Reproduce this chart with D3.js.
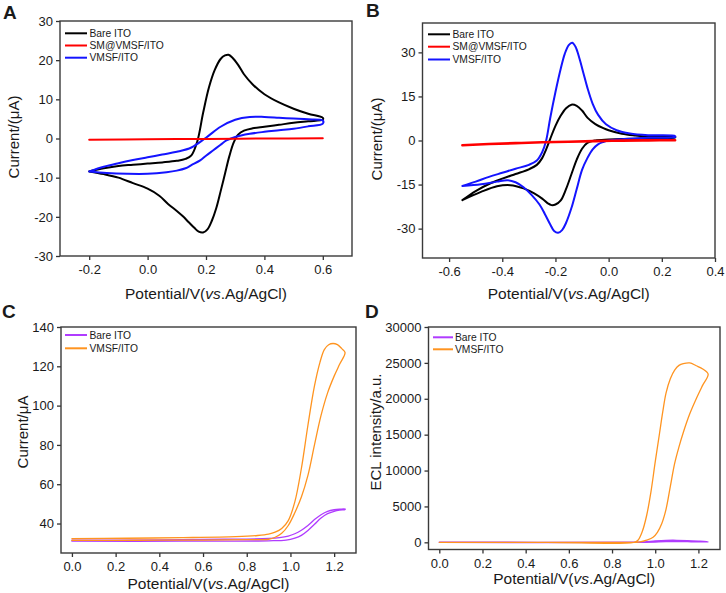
<!DOCTYPE html>
<html><head><meta charset="utf-8">
<script src="https://cdn.jsdelivr.net/npm/d3@7"></script>
<style>
body{margin:0;background:#fff}
text{font-family:"Liberation Sans",Arial,Helvetica,sans-serif;fill:#1a1a1a}
</style>
</head><body>
<svg id="chart" width="726" height="593"></svg>
<script>
// ---------------- DATA ----------------
// Panel A (CV, -0.2 .. 0.6 V)
const aBareV = [-0.2,-0.15,-0.1,-0.05,0.0,0.05,0.1,0.13,0.15,0.17,0.19,0.21,0.23,0.25,0.265,0.277,0.29,0.31,0.33,0.36,0.4,0.45,0.5,0.55,0.6,
                0.6,0.55,0.5,0.45,0.4,0.36,0.33,0.31,0.295,0.28,0.265,0.25,0.235,0.22,0.205,0.19,0.175,0.16,0.14,0.12,0.1,0.07,0.04,0.0,-0.05,-0.1,-0.15,-0.2];
const aBareI = [-8.4,-7.6,-7.0,-6.7,-6.4,-6.1,-5.7,-5.2,-4.3,-0.8,6.5,13.0,17.5,20.3,21.2,21.4,20.7,18.8,16.4,13.8,11.3,9.2,7.6,6.3,5.3,
                4.8,4.4,4.0,3.5,3.0,2.6,2.0,1.0,-1.0,-4.5,-9.0,-13.5,-17.8,-21.0,-23.2,-24.0,-23.8,-22.8,-21.3,-19.8,-18.5,-16.7,-14.6,-12.8,-11.4,-10.0,-9.1,-8.4];
const aVmsfV = [-0.2,-0.15,-0.1,-0.05,0.0,0.05,0.1,0.15,0.2,0.25,0.3,0.35,0.4,0.45,0.5,0.55,0.6,
                0.6,0.55,0.5,0.45,0.4,0.35,0.3,0.27,0.25,0.225,0.2,0.18,0.15,0.13,0.1,0.065,0.0,-0.07,-0.14,-0.2];
const aVmsfI = [-8.4,-7.2,-6.3,-5.5,-4.8,-4.1,-3.4,-2.3,0.2,3.0,4.8,5.5,5.5,5.3,5.1,4.9,4.6,
                3.8,3.1,2.5,2.1,1.7,1.2,0.4,-0.5,-1.6,-3.0,-4.4,-5.6,-6.8,-7.6,-8.2,-8.6,-9.0,-9.0,-8.8,-8.4];
const aSmV = [-0.2,0.0,0.2,0.4,0.6];
const aSmI = [-0.3,-0.2,-0.1,0.0,0.05];

// Panel B (CV, -0.55 .. 0.25 V)
const bBareV = [-0.55,-0.5,-0.45,-0.4,-0.35,-0.3,-0.27,-0.25,-0.235,-0.22,-0.2,-0.18,-0.16,-0.14,-0.12,-0.1,-0.08,-0.05,-0.02,0.0,0.05,0.1,0.15,0.2,0.25,
                0.25,0.15,0.05,0.0,-0.05,-0.08,-0.1,-0.12,-0.14,-0.16,-0.18,-0.2,-0.215,-0.23,-0.25,-0.28,-0.32,-0.37,-0.42,-0.48,-0.55];
const bBareI = [-20.3,-17.2,-14.8,-13.0,-11.4,-9.8,-8.3,-6.0,-3.0,0.5,5.0,8.5,11.0,12.2,11.8,10.2,7.8,5.6,4.2,3.5,2.3,1.7,1.3,1.2,1.2,
                1.0,0.7,0.5,0.3,0.0,-0.8,-2.8,-6.5,-11.5,-16.5,-20.4,-21.8,-22.0,-21.3,-19.8,-18.0,-16.3,-15.2,-15.6,-17.5,-20.3];
const bVmsfV = [-0.55,-0.5,-0.45,-0.4,-0.35,-0.3,-0.27,-0.25,-0.235,-0.22,-0.2,-0.18,-0.165,-0.15,-0.137,-0.125,-0.11,-0.095,-0.08,-0.06,-0.04,-0.01,0.03,0.08,0.15,0.25,
                0.25,0.15,0.05,0.0,-0.02,-0.04,-0.06,-0.08,-0.1,-0.12,-0.14,-0.16,-0.175,-0.19,-0.205,-0.22,-0.24,-0.26,-0.29,-0.32,-0.35,-0.38,-0.42,-0.48,-0.55];
const bVmsfI = [-15.5,-14.0,-12.4,-11.0,-9.6,-8.3,-6.8,-4.0,0.0,7.5,16.5,24.5,29.5,32.5,33.3,32.0,28.0,23.0,18.0,12.5,8.8,5.5,3.5,2.4,1.8,1.5,
                1.2,0.9,0.4,0.0,-0.5,-1.3,-3.0,-6.0,-10.0,-16.5,-23.0,-28.0,-30.5,-31.4,-30.8,-28.5,-25.0,-21.8,-18.5,-15.9,-14.2,-13.5,-14.0,-14.9,-15.5];
const bSmV = [-0.55,-0.45,-0.35,-0.25,-0.15,-0.05,0.05,0.15,0.25];
const bSmI = [-1.6,-1.2,-0.9,-0.6,-0.4,-0.2,-0.05,0.05,0.1];

// Panel C (current, 0 .. 1.25 V)
const cBareV = [0.0,0.5,0.9,0.98,1.02,1.05,1.08,1.11,1.14,1.17,1.2,1.225,1.25,
                1.25,1.225,1.2,1.17,1.14,1.11,1.08,1.05,1.02,0.99,0.95,0.9,0.7,0.4,0.0];
const cBareI = [31.0,31.0,31.2,31.6,32.6,34.0,36.5,39.6,42.8,45.0,46.2,46.8,47.1,
                47.4,47.3,47.0,46.2,44.5,42.0,39.0,36.6,34.8,33.6,32.8,32.4,32.0,31.7,31.5];
const cVmsfV = [0.0,0.3,0.6,0.8,0.9,0.93,0.96,0.99,1.02,1.05,1.08,1.11,1.14,1.17,1.2,1.225,1.25,
                1.235,1.215,1.195,1.175,1.155,1.135,1.11,1.08,1.05,1.02,0.99,0.96,0.93,0.9,0.85,0.75,0.5,0.25,0.0];
const cVmsfI = [31.4,31.5,31.6,31.8,32.0,33.0,35.0,39.0,45.5,53.5,64.5,80.0,95.0,106.5,115.0,121.0,127.0,
                129.0,131.0,131.6,131.0,128.5,122.0,110.0,90.0,68.0,51.0,41.5,37.5,35.6,34.6,33.9,33.3,32.8,32.5,32.3];

// Panel D (ECL intensity, 0 .. 1.25 V)
const dBareV = [0.0,0.9,0.95,1.0,1.05,1.1,1.15,1.2,1.245,1.2,1.15,1.1,1.05,1.0,0.95,0.9,0.0];
const dBareI = [0,0,20,60,100,110,100,80,60,150,230,270,260,180,60,10,0];
const dVmsfV = [0.0,0.5,0.9,0.93,0.96,0.99,1.01,1.03,1.05,1.07,1.09,1.11,1.13,1.16,1.19,1.22,1.245,
                1.22,1.19,1.16,1.13,1.11,1.09,1.07,1.05,1.035,1.02,1.0,0.98,0.96,0.94,0.92,0.9,0.5,0.0];
const dVmsfI = [0,0,0,50,300,700,1400,2600,4600,7800,11000,13300,15300,17900,20000,21900,23440,
                24150,24600,25000,24900,24650,24000,22800,20800,18200,15200,11200,7000,3700,1500,300,0,0,0];

// Tick values
const aXTicks = [-0.2,0.0,0.2,0.4,0.6];
const aYTicks = [-30,-20,-10,0,10,20,30];
const bXTicks = [-0.6,-0.4,-0.2,0.0,0.2,0.4];
const bYTicks = [-30,-15,0,15,30];
const cXTicks = [0.0,0.2,0.4,0.6,0.8,1.0,1.2];
const cYTicks = [40,60,80,100,120,140];
const dXTicks = [0.0,0.2,0.4,0.6,0.8,1.0,1.2];
const dYTicks = [0,5000,10000,15000,20000,25000,30000];

// Legend labels
const abLabels = ["Bare ITO","SM@VMSF/ITO","VMSF/ITO"];
const cdLabels = ["Bare ITO","VMSF/ITO"];

// ---------------- DRAW ----------------
const svg = d3.select("#chart");
svg.append("rect").attr("width",726).attr("height",593).attr("fill","#fff");

const fmt1 = v => d3.format(".1f")(v).replace("\u2212","-");
const fmt0 = v => d3.format("d")(v).replace("\u2212","-");

function zip(V,I){ return V.map((v,i)=>[v,I[i]]); }

function panel(cfg){
  const x = d3.scaleLinear().domain(cfg.xd).range([cfg.l,cfg.r]);
  const y = d3.scaleLinear().domain(cfg.yd).range([cfg.b,cfg.t]);
  const g = svg.append("g");

  const xa = g.append("g").attr("transform",`translate(0,${cfg.b})`)
    .call(d3.axisBottom(x).tickValues(cfg.xt).tickFormat(fmt1).tickSize(4).tickPadding(5));
  const ya = g.append("g").attr("transform",`translate(${cfg.l},0)`)
    .call(d3.axisLeft(y).tickValues(cfg.yt).tickFormat(fmt0).tickSize(4).tickPadding(3));
  [xa,ya].forEach(a=>{
    a.select(".domain").remove();
    a.selectAll("line").attr("stroke","#333").attr("stroke-width",1.3);
    a.selectAll("text").attr("font-size",13).attr("fill","#1a1a1a")
      .style("font-family",'"Liberation Sans",Arial,sans-serif');
  });

  const line = d3.line().x(d=>x(d[0])).y(d=>y(d[1])).curve(d3.curveCatmullRom.alpha(0.5));
  cfg.series.forEach(s=>{
    g.append("path").datum(zip(s.V,s.I)).attr("d",line)
      .attr("fill","none").attr("stroke",s.color).attr("stroke-width",s.w)
      .attr("stroke-linejoin","round").attr("stroke-linecap","round");
  });

  g.append("rect").attr("x",cfg.l).attr("y",cfg.t)
    .attr("width",cfg.r-cfg.l).attr("height",cfg.b-cfg.t)
    .attr("fill","none").attr("stroke","#3a3a3a").attr("stroke-width",1.4);

  // legend
  cfg.legend.items.forEach((it,i)=>{
    const ly = cfg.legend.y[i];
    g.append("line").attr("x1",cfg.legend.x1).attr("x2",cfg.legend.x2)
      .attr("y1",ly).attr("y2",ly).attr("stroke",it.color).attr("stroke-width",2);
    g.append("text").attr("x",cfg.legend.tx).attr("y",ly).attr("dy","0.35em")
      .attr("font-size",10.3).text(it.label);
  });

  // x title
  const xt = g.append("text").attr("x",(cfg.l+cfg.r)/2).attr("y",cfg.xty)
    .attr("text-anchor","middle").attr("font-size",15.5);
  xt.append("tspan").text("Potential/V(");
  xt.append("tspan").attr("font-style","italic").text("vs");
  xt.append("tspan").text(".Ag/AgCl)");

  // y title
  g.append("text").attr("transform",`translate(${cfg.ytx},${cfg.yty}) rotate(-90)`)
    .attr("text-anchor","middle").attr("font-size",15).text(cfg.ytitle);

  // panel letter
  g.append("text").attr("x",cfg.letter[0]).attr("y",cfg.letter[1])
    .attr("font-size",19).attr("font-weight","bold").attr("fill","#111").text(cfg.letter[2]);
}

const BLACK="#000000", RED="#ff0000", BLUE="#1414ff", PURPLE="#b03cff", ORANGE="#ff9420";

panel({
  l:60,r:352,t:21,b:256, xd:[-0.3,0.7], yd:[-30,30], xt:aXTicks, yt:aYTicks,
  series:[
    {V:aBareV,I:aBareI,color:BLACK,w:2},
    {V:aVmsfV,I:aVmsfI,color:BLUE,w:2},
    {V:aSmV,I:aSmI,color:RED,w:2}
  ],
  legend:{x1:65,x2:87,tx:89.5,y:[33.3,45.5,57.7],
    items:[{label:abLabels[0],color:BLACK},{label:abLabels[1],color:RED},{label:abLabels[2],color:BLUE}]},
  xty:299, ytx:18.5, yty:137, ytitle:"Current/(\u03bcA)", letter:[3,18.5,"A"]
});

panel({
  l:422.5,r:715,t:23,b:258, xd:[-0.7,0.4], yd:[-40,40], xt:bXTicks, yt:bYTicks,
  series:[
    {V:bBareV,I:bBareI,color:BLACK,w:2},
    {V:bVmsfV,I:bVmsfI,color:BLUE,w:2},
    {V:bSmV,I:bSmI,color:RED,w:2.6}
  ],
  legend:{x1:428,x2:450,tx:452.5,y:[34.3,46.7,59.5],
    items:[{label:abLabels[0],color:BLACK},{label:abLabels[1],color:RED},{label:abLabels[2],color:BLUE}]},
  xty:299, ytx:381.5, yty:139, ytitle:"Current/(\u03bcA)", letter:[366,17,"B"]
});

panel({
  l:61,r:356,t:327,b:553, xd:[-0.05,1.3], yd:[25,140], xt:cXTicks, yt:cYTicks,
  series:[
    {V:cBareV,I:cBareI,color:PURPLE,w:1.3},
    {V:cVmsfV,I:cVmsfI,color:ORANGE,w:1.3}
  ],
  legend:{x1:65,x2:87,tx:89.5,y:[335,348.3],
    items:[{label:cdLabels[0],color:PURPLE},{label:cdLabels[1],color:ORANGE}]},
  xty:589, ytx:27.5, yty:432, ytitle:"Current/\u03bcA", letter:[2,318.3,"C"]
});

panel({
  l:428.5,r:720,t:327,b:549.5, xd:[-0.05,1.3], yd:[-1000,30000], xt:dXTicks, yt:dYTicks,
  series:[
    {V:dBareV,I:dBareI,color:PURPLE,w:1.5},
    {V:dVmsfV,I:dVmsfI,color:ORANGE,w:1.3}
  ],
  legend:{x1:433,x2:453,tx:455,y:[337.3,349.3],
    items:[{label:cdLabels[0],color:PURPLE},{label:cdLabels[1],color:ORANGE}]},
  xty:584, ytx:381, yty:432, ytitle:"ECL intensity/a.u.", letter:[365,318,"D"]
});
</script>
</body></html>
